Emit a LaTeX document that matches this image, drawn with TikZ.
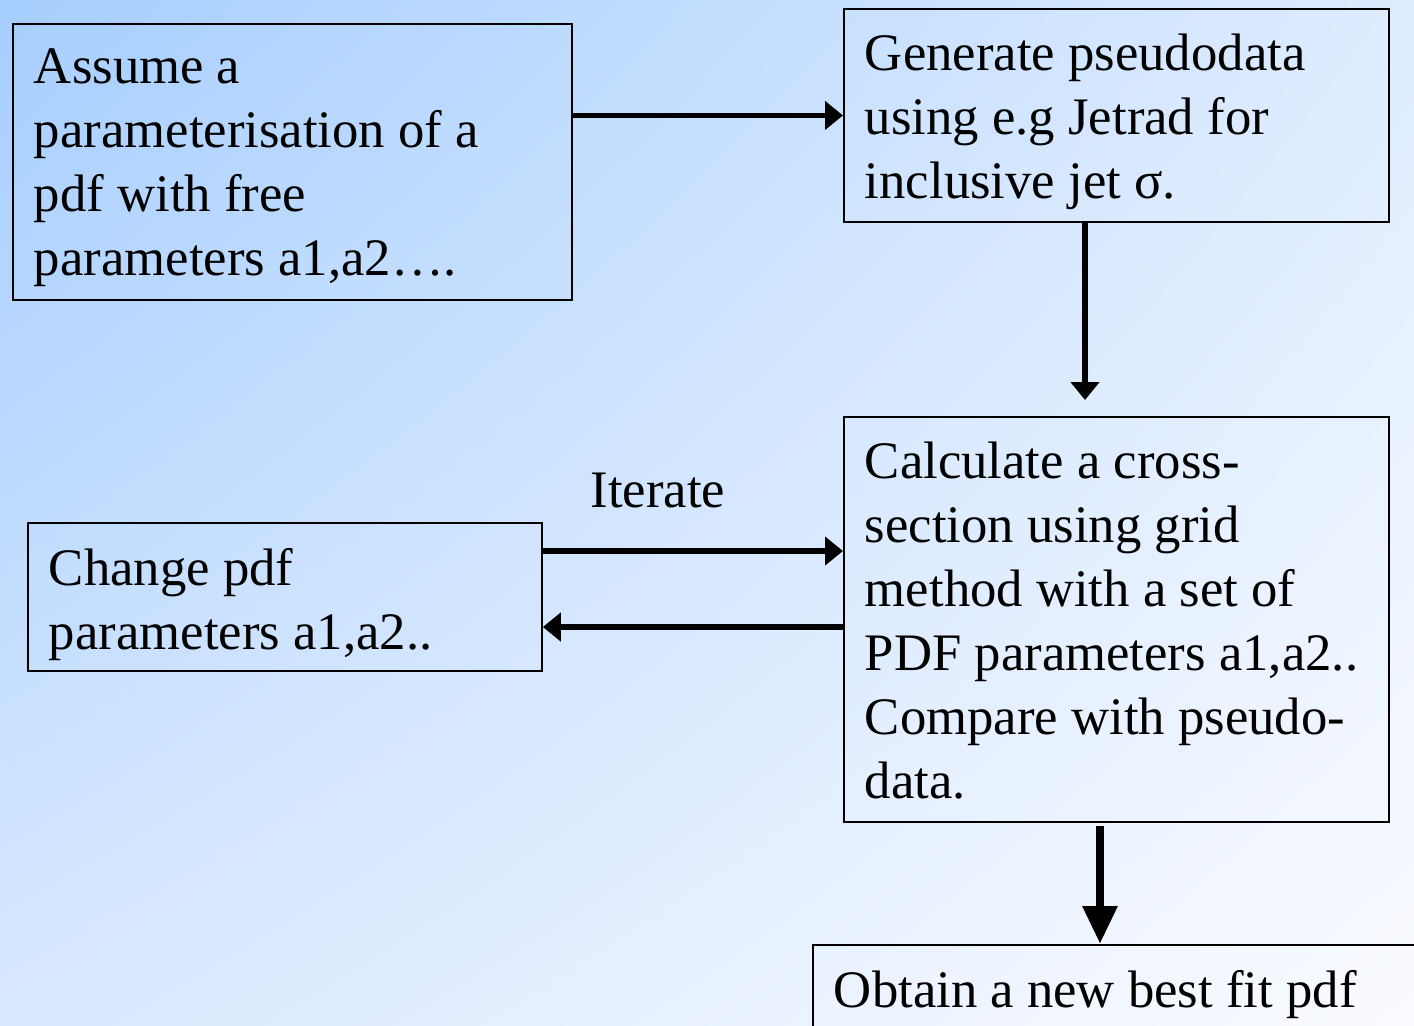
\documentclass[tikz,border=0pt]{standalone}
\usepackage{fontspec}
\setmainfont{Liberation Serif}
\usetikzlibrary{arrows.meta,shadings}

\definecolor{fondoA}{RGB}{166,206,255}
\definecolor{fondoB}{RGB}{222,236,255}
\definecolor{fondoC}{RGB}{216,232,255}
\definecolor{fondoD}{RGB}{250,251,255}

\tikzset{
  caja/.style={draw=black, line width=1.1pt, inner xsep=0.42cm, inner ysep=0.5cm,
    anchor=north west, font=\fontsize{30}{36.4}\selectfont},
  flecha/.style={line width=3.2pt, -{Triangle[length=0.36cm,width=0.56cm]}},
  flechagr/.style={line width=5pt, -{Triangle[length=0.76cm,width=0.66cm]}}
}

\begin{document}
\begin{tikzpicture}[x=0.02cm,y=-0.02cm]
%fondo con degradado
\clip (0,0) rectangle (1414,1025);
\shade[upper left=fondoA, upper right=fondoB, lower left=fondoC, lower right=fondoD]
  (0,0) rectangle (1414,1025);

%cajas del diagrama
\node[caja] (A) at (12,23) {\parbox[t][4.52cm][t]{10.34cm}{Assume a\\parameterisation of a\\pdf with free\\parameters a1,a2….}};
\node[caja] (B) at (843,8) {\parbox[t][3.26cm][t]{10.06cm}{Generate pseudodata\\using e.g Jetrad for\\inclusive jet σ.}};
\node[caja] (C) at (843,416) {\parbox[t][7.1cm][t]{10.06cm}{Calculate a cross-\\section using grid\\method with a set of\\PDF parameters a1,a2..\\Compare with pseudo-\\data.}};
\node[caja] (D) at (27,522) {\parbox[t][1.96cm][t]{9.44cm}{Change pdf\\parameters a1,a2..}};
\node[caja] (E) at (812,944) {\parbox[t][4cm][t]{12.16cm}{Obtain a new best fit pdf}};

%etiqueta de la iteracion
\node[font=\fontsize{30}{36.4}\selectfont] (iter) at (658,490) {Iterate};

%puntos auxiliares para las flechas
\coordinate (bajaB) at (1085,400);
\coordinate (ida) at (0,551);
\coordinate (vuelta) at (0,627);
\coordinate (bajaC) at (1100,0);

%flechas
\draw[flecha] (A.east |- B.west) -- (B.west);
\draw[flecha] (B.south -| bajaB) -- (bajaB);
\draw[flecha] (D.east |- ida) -- (C.west |- ida);
\draw[flecha] (C.west |- vuelta) -- (D.east |- vuelta);
\draw[flechagr, shorten <=2pt] (C.south -| bajaC) -- (E.north -| bajaC);
\end{tikzpicture}
\end{document}
